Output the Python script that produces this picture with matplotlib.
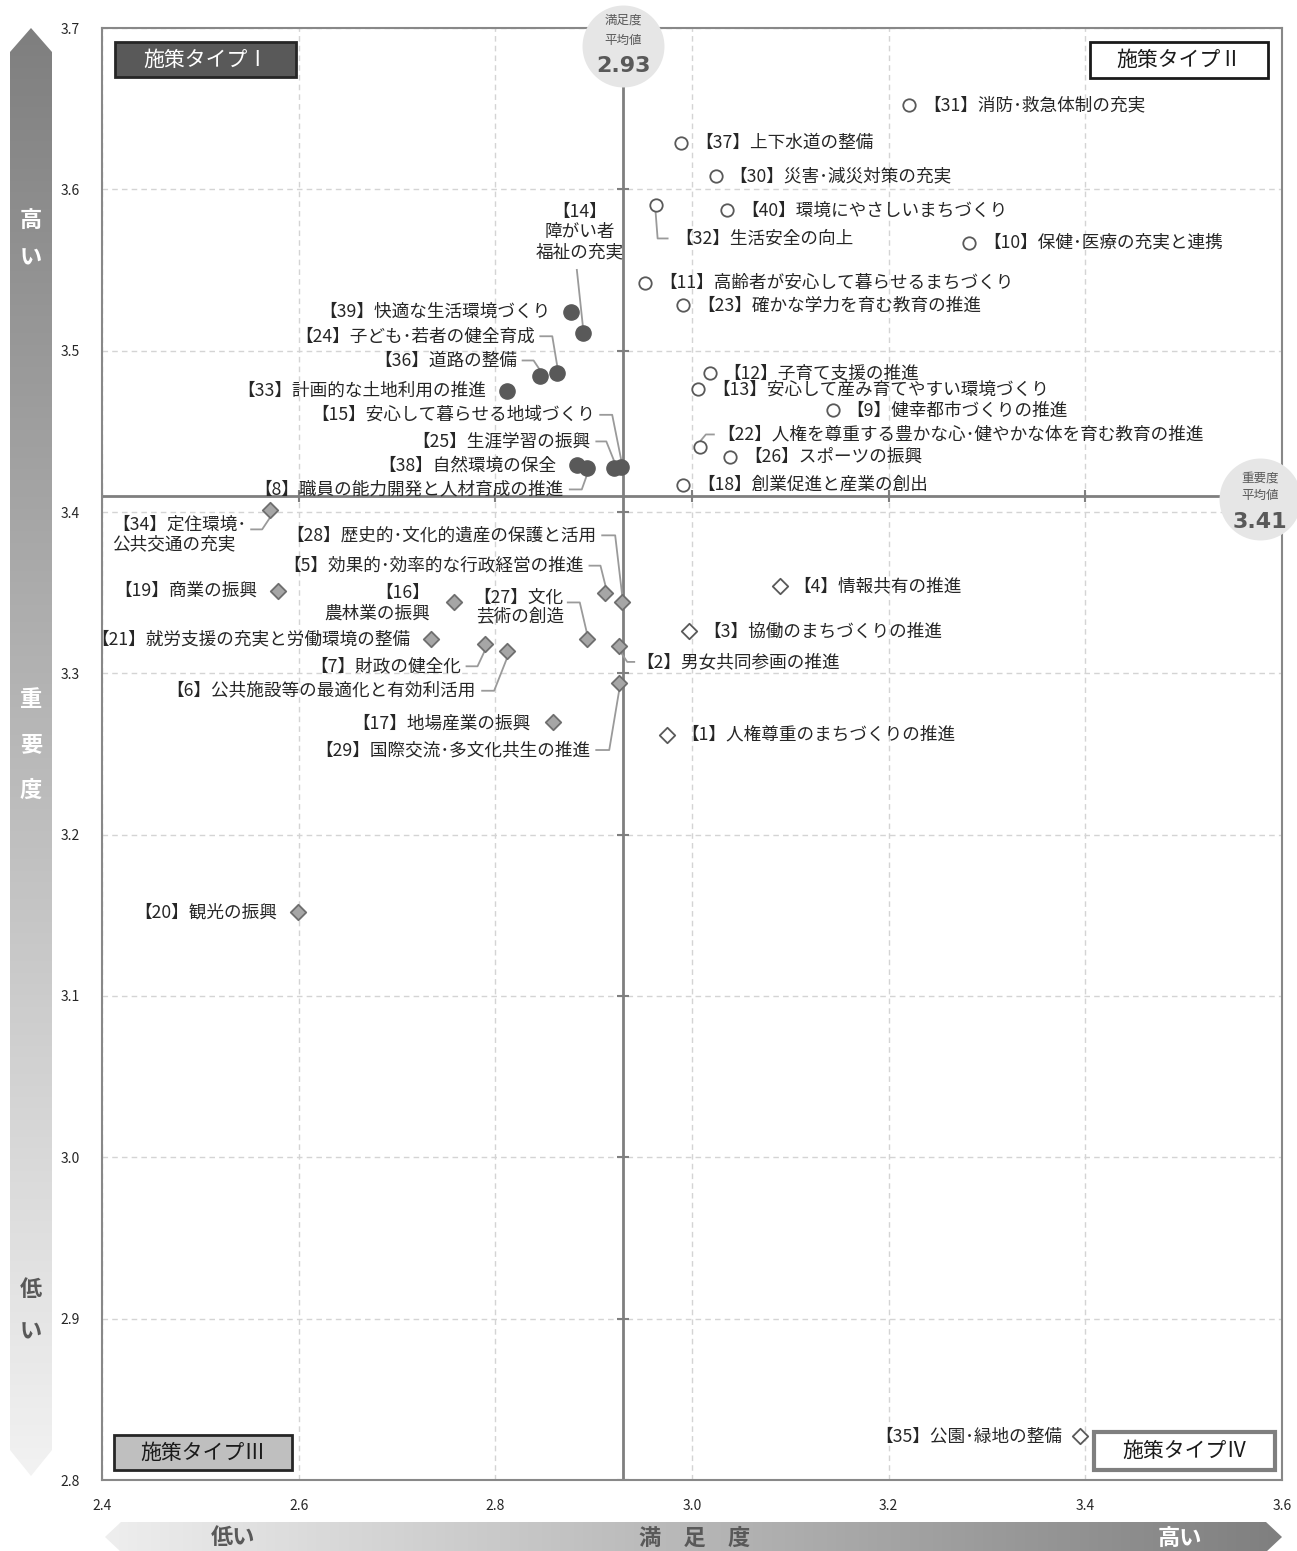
import numpy as np
import matplotlib
matplotlib.use('Agg')
import matplotlib.pyplot as plt
from matplotlib.patches import Polygon, Rectangle
from matplotlib.colors import LinearSegmentedColormap
from matplotlib.transforms import Affine2D

plt.rcParams['font.family'] = ['Noto Sans CJK JP', 'DejaVu Sans']

# ---- data (満足度, 重要度) ----
ids = [31, 37, 30, 32, 40, 10, 11, 23, 12, 13, 9, 22, 26, 18,
       14, 39, 24, 36, 33, 15, 25, 38, 8,
       34, 28, 5, 19, 16, 27, 2, 21, 7, 6, 17, 29, 20,
       4, 3, 1, 35]
names = ['消防･救急体制の充実', '上下水道の整備', '災害･減災対策の充実', '生活安全の向上',
         '環境にやさしいまちづくり', '保健･医療の充実と連携', '高齢者が安心して暮らせるまちづくり',
         '確かな学力を育む教育の推進', '子育て支援の推進', '安心して産み育てやすい環境づくり',
         '健幸都市づくりの推進', '人権を尊重する豊かな心･健やかな体を育む教育の推進',
         'スポーツの振興', '創業促進と産業の創出',
         '\n障がい者\n福祉の充実', '快適な生活環境づくり', '子ども･若者の健全育成', '道路の整備',
         '計画的な土地利用の推進', '安心して暮らせる地域づくり', '生涯学習の振興', '自然環境の保全',
         '職員の能力開発と人材育成の推進',
         '定住環境･\n公共交通の充実', '歴史的･文化的遺産の保護と活用', '効果的･効率的な行政経営の推進',
         '商業の振興', '\n農林業の振興', '文化\n芸術の創造', '男女共同参画の推進',
         '就労支援の充実と労働環境の整備', '財政の健全化', '公共施設等の最適化と有効利活用',
         '地場産業の振興', '国際交流･多文化共生の推進', '観光の振興',
         '情報共有の推進', '協働のまちづくりの推進', '人権尊重のまちづくりの推進', '公園･緑地の整備']
satisfaction = [3.221, 2.989, 3.024, 2.963, 3.036, 3.282, 2.952, 2.991, 3.018, 3.006, 3.143, 3.008, 3.039, 2.991,
                2.889, 2.877, 2.863, 2.845, 2.812, 2.928, 2.921, 2.883, 2.893,
                2.571, 2.929, 2.912, 2.579, 2.758, 2.893, 2.926, 2.735, 2.789, 2.812, 2.859, 2.926, 2.599,
                3.089, 2.997, 2.975, 3.395]
importance = [3.652, 3.629, 3.608, 3.590, 3.587, 3.567, 3.542, 3.528, 3.486, 3.476, 3.463, 3.440, 3.434, 3.417,
              3.511, 3.524, 3.486, 3.484, 3.475, 3.428, 3.427, 3.429, 3.427,
              3.401, 3.344, 3.350, 3.351, 3.344, 3.321, 3.317, 3.321, 3.318, 3.314, 3.270, 3.294, 3.152,
              3.354, 3.326, 3.262, 2.827]
sat_mean = 2.93
imp_mean = 3.41

# ---- label layout: (dx, dy) in pixels (dy downwards), ha, ma, leader vertices ----
layout = {
    32: (20, 33, 'left', 'left', [(0, 7), (2, 33), (12, 33)]),
    22: (17, -13, 'left', 'left', [(1, -7), (6, -13), (14, -13)]),
    35: (-18, 0, 'right', 'right', None),
    14: (-3, -101, 'center', 'center', [(-6, -63), (0, -7)]),
    24: (-22, -37, 'right', 'right', [(-17, -37), (-5, -37), (0, -7)]),
    36: (-22, -16, 'right', 'right', [(-17, -16), (-6, -16), (0, -7)]),
    15: (-26, -52, 'right', 'right', [(-21, -52), (-9, -52), (0, -7)]),
    25: (-24, -27, 'right', 'right', [(-18, -27), (-8, -27), (0, -7)]),
    8: (-23, 21, 'right', 'right', [(-17, 21), (-5, 21), (0, 7)]),
    34: (-24, 24, 'right', 'left', [(-19, 19), (-8, 19), (0, 7)]),
    28: (-26, -67, 'right', 'right', [(-20, -67), (-7, -67), (0, -7)]),
    5: (-22, -27, 'right', 'right', [(-16, -27), (-5, -27), (0, -7)]),
    16: (-24, 1, 'right', 'right', None),
    27: (-23, -32, 'right', 'right', [(-19, -37), (-7, -37), (0, -7)]),
    2: (17, 16, 'left', 'left', [(2, 7), (8, 16), (15, 16)]),
    7: (-23, 22, 'right', 'right', [(-18, 22), (-7, 22), (0, 7)]),
    6: (-31, 40, 'right', 'right', [(-25, 40), (-13, 40), (0, 7)]),
    17: (-23, 2, 'right', 'right', None),
    29: (-29, 67, 'right', 'right', [(-23, 67), (-10, 67), (0, 7)]),
}

W, H = 1297, 1551
fig = plt.figure(figsize=(W / 100, H / 100), dpi=100)

# background overlay in pixel coordinates (arrows)
bg = fig.add_axes([0, 0, 1, 1], zorder=0)
bg.axis('off')

ax = fig.add_axes([102 / W, 1 - 1480 / H, 1180 / W, 1452 / H], zorder=1)
ax.set_xlim(2.4, 3.6)
ax.set_ylim(2.8, 3.7)
xt = np.round(np.arange(2.4, 3.61, 0.2), 1)
yt = np.round(np.arange(2.8, 3.71, 0.1), 1)
ax.set_xticks(xt)
ax.set_xticklabels([f'{v:.1f}' for v in xt])
ax.set_yticks(yt)
ax.set_yticklabels([f'{v:.1f}' for v in yt])
ax.tick_params(length=0, labelsize=10, colors='#262626')
ax.tick_params(axis='x', pad=14)
ax.tick_params(axis='y', pad=16)
ax.grid(True, ls=(0, (4, 3)), color='#d4d4d4', lw=1)
for s in ax.spines.values():
    s.set_color('#888888')
    s.set_linewidth(1.5)

ax.axvline(sat_mean, color='#7f7f7f', lw=2, zorder=2)
ax.axhline(imp_mean, color='#7f7f7f', lw=2, zorder=2)
ax.plot(np.full(len(yt), sat_mean), yt, ls='none', marker='_', ms=8, mew=1.5, color='#7f7f7f', zorder=2)
ax.plot(xt, np.full(len(xt), imp_mean), ls='none', marker='|', ms=8, mew=1.5, color='#7f7f7f', zorder=2)

sat = np.array(satisfaction)
imp = np.array(importance)
hi = imp > imp_mean
right = sat > sat_mean
ax.scatter(sat[hi & ~right], imp[hi & ~right], s=120, c='#595959', zorder=5)
ax.scatter(sat[hi & right], imp[hi & right], s=80, facecolors='white', edgecolors='#595959', linewidths=1.3, zorder=5)
ax.scatter(sat[~hi & ~right], imp[~hi & ~right], s=62, marker='D', facecolors='#a6a6a6', edgecolors='#6e6e6e', linewidths=1.3, zorder=5)
ax.scatter(sat[~hi & right], imp[~hi & right], s=62, marker='D', facecolors='white', edgecolors='#595959', linewidths=1.3, zorder=5)

inv = ax.transData.inverted()
for i, nm, x, y, h, r in zip(ids, names, sat, imp, hi, right):
    if i in layout:
        dx, dy, ha, ma, leader = layout[i]
    elif r:
        dx, dy, ha, ma, leader = 14, 0, 'left', 'left', None
    else:
        dx, dy, ha, ma, leader = -21, 0, 'right', 'right', None
    ax.annotate(f'【{i}】{nm}', (x, y), xytext=(dx, -dy), textcoords='offset pixels',
                ha=ha, va='center', ma=ma, fontsize=12.7, color='#262626',
                linespacing=1.15, zorder=6, annotation_clip=False)
    if leader:
        px, py = ax.transData.transform((x, y))
        pts = inv.transform([(px + ox, py - oy) for ox, oy in leader])
        ax.plot(pts[:, 0], pts[:, 1], color='#9a9a9a', lw=1.3, zorder=4, clip_on=False)

# mean value bubbles
ax.plot([sat_mean], [3.7], marker='o', ms=59, mfc='#e6e6e6', mec='none', clip_on=False, zorder=8,
        transform=ax.transData + Affine2D().translate(0, -18))
for txt, oy, fs, wt, fam in [('満足度', 8, 9, 'normal', None), ('平均値', -12, 9, 'normal', None),
                             (f'{sat_mean:.2f}', -38, 16, 'bold', 'DejaVu Sans')]:
    ax.annotate(txt, (sat_mean, 3.7), xytext=(0, oy), textcoords='offset pixels', ha='center', va='center',
                fontsize=fs, fontweight=wt, color='#595959', zorder=9, annotation_clip=False,
                family=fam if fam else plt.rcParams['font.family'])
ax.plot([3.6], [imp_mean], marker='o', ms=59, mfc='#e6e6e6', mec='none', clip_on=False, zorder=8,
        transform=ax.transData + Affine2D().translate(-22, -3))
for txt, oy, fs, wt, fam in [('重要度', 18, 9, 'normal', None), ('平均値', 0, 9, 'normal', None),
                             (f'{imp_mean:.2f}', -26, 16, 'bold', 'DejaVu Sans')]:
    ax.annotate(txt, (3.6, imp_mean), xytext=(-22, oy), textcoords='offset pixels', ha='center', va='center',
                fontsize=fs, fontweight=wt, color='#595959', zorder=9, annotation_clip=False,
                family=fam if fam else plt.rcParams['font.family'])

# foreground overlay for quadrant boxes
fg = fig.add_axes([0, 0, 1, 1], zorder=2)
fg.set_xlim(0, W)
fg.set_ylim(H, 0)
fg.axis('off')
fg.patch.set_alpha(0)
boxes = [((115, 42, 181, 35), '#595959', '#262626', 2, 'white', '施策タイプⅠ'),
         ((1090, 42, 178, 36), 'white', '#1a1a1a', 2, '#1a1a1a', '施策タイプⅡ'),
         ((114, 1435, 178, 35), '#bfbfbf', '#262626', 2, '#1a1a1a', '施策タイプⅢ'),
         ((1094, 1432, 181, 38), 'white', '#7f7f7f', 3, '#1a1a1a', '施策タイプⅣ')]
for (bx, by, bw, bh), fc, ec, lw, tc, t in boxes:
    fg.add_patch(Rectangle((bx, by), bw, bh, fc=fc, ec=ec, lw=lw))
    fg.text(bx + bw / 2, by + bh / 2, t, ha='center', va='center', fontsize=15, color=tc)

# gradient arrows
cm_v = LinearSegmentedColormap.from_list('v', ['#7f7f7f', '#f2f2f2'])
poly_v = Polygon([(31, 28), (52, 52), (52, 1450), (31, 1476), (10, 1450), (10, 52)], closed=True,
                 fc='none', ec='none', transform=bg.transData)
bg.add_patch(poly_v)
im = bg.imshow(np.linspace(0, 1, 256).reshape(-1, 1), cmap=cm_v, extent=(10, 52, 1476, 28),
               origin='upper', aspect='auto')
im.set_clip_path(poly_v)

cm_h = LinearSegmentedColormap.from_list('h', ['#eeeeee', '#7f7f7f'])
poly_h = Polygon([(105, 1537), (121, 1522), (1266, 1522), (1282, 1537), (1266, 1552), (121, 1552)], closed=True,
                 fc='none', ec='none', transform=bg.transData)
bg.add_patch(poly_h)
im2 = bg.imshow(np.linspace(0, 1, 256).reshape(1, -1), cmap=cm_h, extent=(105, 1282, 1552, 1522),
                origin='upper', aspect='auto')
im2.set_clip_path(poly_h)
bg.set_xlim(0, W)
bg.set_ylim(H, 0)

for t, yy, c in [('高', 220, 'white'), ('い', 258, 'white'), ('重', 700, 'white'), ('要', 745, 'white'),
                 ('度', 790, 'white'), ('低', 1290, '#595959'), ('い', 1332, '#595959')]:
    bg.text(31, yy, t, ha='center', va='center', fontsize=16, fontweight='bold', color=c)
for t, xx, c in [('低い', 233, '#595959'), ('満　足　度', 695, '#595959'), ('高い', 1180, 'white')]:
    bg.text(xx, 1538, t, ha='center', va='center', fontsize=16, fontweight='bold', color=c)

fig.savefig('out.png', dpi=100)
